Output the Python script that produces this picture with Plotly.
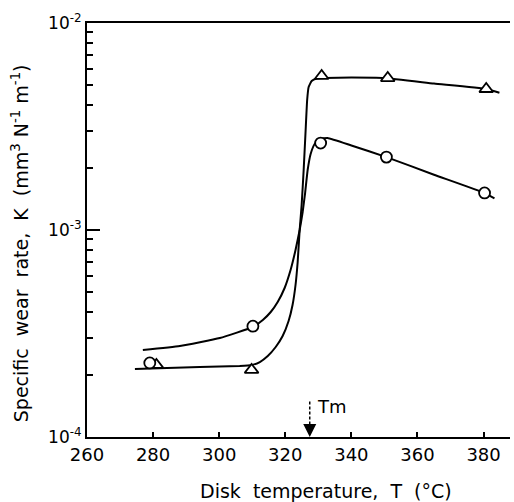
import plotly.graph_objects as go

# Measured data points
tri_T = [281, 309.8, 331, 351, 380.8]
tri_K = [2.23e-4, 2.11e-4, 5.55e-3, 5.42e-3, 4.8e-3]
circ_T = [279, 310.2, 330.7, 350.6, 380.3]
circ_K = [2.28e-4, 3.43e-4, 2.63e-3, 2.25e-3, 1.51e-3]

# Fitted curves
tri_curve_T = [274.5, 294.1, 306.2, 309.9, 312.3, 314.7, 317.1, 319.2, 321.0, 322.2,
               323.1, 323.75, 324.35, 324.95, 325.56, 326.16, 326.62, 327.07, 327.98,
               329.5, 331.9, 340, 350, 365, 380.8, 384.8]
tri_curve_K = [2.131e-4, 2.179e-4, 2.203e-4, 2.228e-4, 2.303e-4, 2.461e-4, 2.721e-4,
               3.075e-4, 3.634e-4, 4.342e-4, 5.424e-4, 7.004e-4, 1.0e-3, 1.32e-3,
               1.949e-3, 3.041e-3, 4.246e-3, 4.906e-3, 5.246e-3, 5.394e-3, 5.424e-3,
               5.45e-3, 5.42e-3, 5.1e-3, 4.8e-3, 4.6e-3]
circ_curve_T = [276.9, 288.1, 300.2, 310.15, 313.2, 315.6, 317.7, 319.8, 321.6, 323.1,
                324.35, 325.26, 326.0, 326.77, 327.67, 328.88, 330.7, 332.8, 340,
                350.6, 365, 380.3, 383.3]
circ_curve_K = [2.633e-4, 2.752e-4, 3.007e-4, 3.399e-4, 3.674e-4, 4.016e-4, 4.49e-4,
                5.246e-4, 6.407e-4, 8.006e-4, 1.0e-3, 1.222e-3, 1.509e-3, 1.949e-3,
                2.329e-3, 2.603e-3, 2.752e-3, 2.782e-3, 2.56e-3, 2.25e-3, 1.85e-3,
                1.51e-3, 1.42e-3]

x_ticks = [260, 280, 300, 320, 340, 360, 380]
y_ticks = [1e-4, 1e-3, 1e-2]
y_ticktext = ["10<sup>-4</sup>", "10<sup>-3</sup>", "10<sup>-2</sup>"]
y_minor = [m * 10.0 ** e for e in (-4, -3) for m in range(2, 10)]
Tm = 327.4

FONT = "DejaVu Sans"
SP = "\u00a0"
G = SP * 2

fig = go.Figure()
fig.add_trace(go.Scatter(x=tri_curve_T, y=tri_curve_K, mode="lines",
                         line=dict(color="black", width=2, shape="spline", smoothing=0.4),
                         showlegend=False, hoverinfo="skip"))
fig.add_trace(go.Scatter(x=circ_curve_T, y=circ_curve_K, mode="lines",
                         line=dict(color="black", width=2, shape="spline", smoothing=0.4),
                         showlegend=False, hoverinfo="skip"))
fig.add_trace(go.Scatter(x=tri_T, y=tri_K, mode="markers",
                         marker=dict(symbol="triangle-up", size=12, color="white",
                                     line=dict(color="black", width=1.8)),
                         showlegend=False))
fig.add_trace(go.Scatter(x=circ_T, y=circ_K, mode="markers",
                         marker=dict(symbol="circle", size=11, color="white",
                                     line=dict(color="black", width=1.8)),
                         showlegend=False))

xtitle = G.join(["Disk", "temperature,", "T", "(°C)"])
ytitle = (f"Specific{G}wear{G}rate,{G}K{G}"
          f"(mm<sup>3</sup>{SP}N<sup>-1</sup>{SP}m<sup>-1</sup>)")

fig.update_layout(
    width=514, height=502,
    margin=dict(l=87, r=4, t=23, b=65),
    plot_bgcolor="white", paper_bgcolor="white",
    font=dict(family=FONT, color="black", size=16),
    xaxis=dict(range=[260, 388], tickvals=x_ticks, ticks="inside", ticklen=5,
               tickwidth=1.5, tickcolor="black", showline=True, linecolor="black",
               linewidth=2, mirror=True, showgrid=False, zeroline=False,
               tickfont=dict(size=18, family=FONT)),
    yaxis=dict(type="log", range=[-4, -2], tickvals=y_ticks, ticktext=y_ticktext,
               ticks="inside", ticklen=13, tickwidth=1.5, tickcolor="black",
               showline=True, linecolor="black", linewidth=2, mirror=False,
               showgrid=False, zeroline=False,
               tickfont=dict(size=17, family=FONT),
               minor=dict(tickvals=y_minor, ticks="inside", ticklen=6,
                          tickwidth=1.5, tickcolor="black", showgrid=False)),
    annotations=[
        dict(text=xtitle, xref="paper", yref="paper",
             x=0.565, y=-0.130, showarrow=False, font=dict(size=19, family=FONT),
             xanchor="center", yanchor="middle"),
        dict(text=ytitle,
             xref="paper", yref="paper", x=-0.158, y=0.4685, textangle=-90,
             showarrow=False, font=dict(size=19, family=FONT),
             xanchor="center", yanchor="middle"),
        dict(text="Tm", xref="x", yref="paper", x=334, y=0.0725, showarrow=False,
             font=dict(size=18, family=FONT), xanchor="center", yanchor="middle"),
        dict(text="", xref="x", yref="paper", x=Tm, y=0.0, ax=0, ay=-14,
             showarrow=True, arrowhead=2, arrowsize=1.3, arrowwidth=2,
             arrowcolor="black", standoff=0),
    ],
    shapes=[
        dict(type="line", xref="x", yref="paper", x0=Tm, x1=Tm, y0=0.03, y1=0.09,
             line=dict(color="black", width=1.5, dash="3px,2px")),
    ],
)

fig.write_html("out.html")
